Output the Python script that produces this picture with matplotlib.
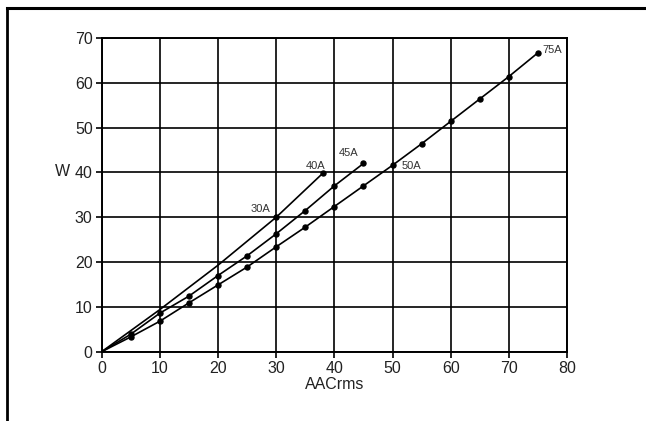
import matplotlib
matplotlib.use("Agg")
import matplotlib.pyplot as plt
from matplotlib.lines import Line2D

# ── data ────────────────────────────────────────────────────────────────────
x_40a = [0, 10, 20, 30, 38]
y_40a = [0, 9.4, 19.3, 30.0, 39.8]

x_45a = [0, 5, 10, 15, 20, 25, 30, 35, 40, 45]
y_45a = [0, 3.9, 8.6, 12.4, 17.0, 21.4, 26.3, 31.5, 37.0, 42.0]

x_75a = [0, 5, 10, 15, 20, 25, 30, 35, 40, 45, 50, 55, 60, 65, 70, 75]
y_75a = [0, 3.3, 6.8, 10.9, 14.9, 18.9, 23.4, 27.8, 32.4, 37.0,
         41.6, 46.4, 51.4, 56.4, 61.4, 66.7]

label_text = ["30A", "40A", "45A", "50A", "75A"]
label_x = [27.3, 36.7, 42.5, 53.3, 77.4]
label_y = [31.8, 41.4, 44.3, 41.4, 67.3]

x_ticks = list(range(0, 81, 10))
y_ticks = list(range(0, 71, 10))

plt.rcParams["font.family"] = ["Liberation Sans", "DejaVu Sans"]

fig = plt.figure(figsize=(6.46, 4.21), dpi=100)
ax = fig.add_axes([0.1574, 0.1646, 0.8777 - 0.1574, 0.9097 - 0.1646])

line_kw = dict(color="black", linewidth=1.2, marker="o", markersize=3.6)
ax.plot(x_40a, y_40a, markevery=[3, 4], **line_kw)
ax.plot(x_45a, y_45a, markevery=list(range(1, len(x_45a))), **line_kw)
ax.plot(x_75a, y_75a, markevery=list(range(1, len(x_75a))), **line_kw)

for t, lx, ly in zip(label_text, label_x, label_y):
    ax.text(lx, ly, t, ha="center", va="center", fontsize=8, color="#333333")

ax.set_xlim(0, 80)
ax.set_ylim(0, 70)
ax.set_xticks(x_ticks)
ax.set_yticks(y_ticks)
ax.grid(True, color="black", linewidth=1.2)
ax.set_axisbelow(True)
for s in ax.spines.values():
    s.set_linewidth(1.4)
ax.tick_params(direction="out", length=4, width=1.2, pad=2.5,
               labelsize=11.5, labelcolor="#222222")

ax.set_xlabel("AACrms", fontsize=11.5, color="#222222", labelpad=1)
ax.set_ylabel("W", fontsize=11.5, color="#222222", rotation=0,
              labelpad=6, va="center")
ax.yaxis.set_label_coords(-0.085, 0.575)

# outer frame (top and left edges visible)
fig.add_artist(Line2D([6.8 / 646, 1.0], [1 - 7.5 / 421, 1 - 7.5 / 421],
                      transform=fig.transFigure, color="black", linewidth=2.2))
fig.add_artist(Line2D([6.8 / 646, 6.8 / 646], [0.0, 1 - 7.5 / 421],
                      transform=fig.transFigure, color="black", linewidth=2.0))

fig.savefig("out.png", dpi=100)
